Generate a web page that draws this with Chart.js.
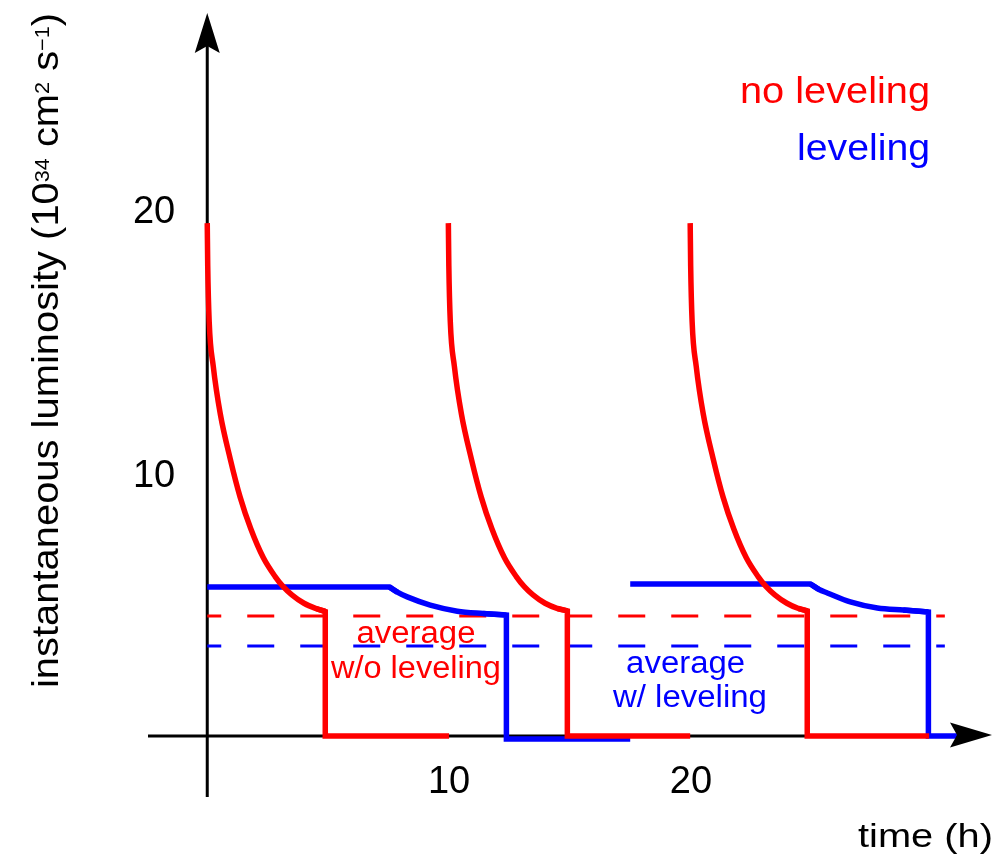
<!DOCTYPE html>
<html>
<head>
<meta charset="utf-8">
<title>Instantaneous luminosity with and without leveling</title>
<script src="https://cdn.jsdelivr.net/npm/chart.js@4/dist/chart.umd.min.js"></script>
<style>
  html, body { margin: 0; padding: 0; background: #fff; }
  #wrap { width: 1002px; height: 861px; }
</style>
</head>
<body>
<div id="wrap"><canvas id="lumi" width="1002" height="861"></canvas></div>
<script>
/* ---------- data (time in h, luminosity in 1e34 cm^-2 s^-1) ---------- */

// no leveling: each fill decays, beam dump drops to 0, turnaround until next fill
const redT1 = [0, 0.02, 0.08, 0.25, 0.54, 0.95, 1.36, 1.8, 2.32, 2.8, 3.14, 3.5, 4.0, 4.5, 4.88, 4.88, 10.0];
const redL1 = [19.43, 17.8, 15.7, 14.0, 12.2, 10.5, 9.05, 7.85, 6.75, 6.05, 5.66, 5.35, 5.03, 4.83, 4.72, 0, 0];
const redT2 = [9.97, 9.99, 10.05, 10.22, 10.51, 10.92, 11.33, 11.77, 12.29, 12.77, 13.11, 13.47, 13.97, 14.49, 14.89, 14.89, 19.97];
const redL2 = [19.43, 17.8, 15.7, 14.0, 12.2, 10.5, 9.05, 7.85, 6.75, 6.05, 5.66, 5.35, 5.03, 4.83, 4.74, 0, 0];
const redT3 = [19.97, 19.99, 20.05, 20.22, 20.51, 20.92, 21.33, 21.77, 22.29, 22.77, 23.11, 23.47, 23.97, 24.45, 24.81, 24.81, 29.85];
const redL3 = [19.43, 17.8, 15.7, 14.0, 12.2, 10.5, 9.05, 7.85, 6.75, 6.05, 5.66, 5.35, 5.03, 4.83, 4.74, 0, 0];

// leveling: flat plateau, then natural decay, dump and turnaround
const bluT1 = [0, 7.53, 7.86, 8.27, 9.22, 10.34, 11.41, 12.37, 12.37, 17.49];
const bluL1 = [5.65, 5.65, 5.45, 5.27, 4.96, 4.73, 4.64, 4.58, -0.11, -0.11];
const bluT2 = [17.49, 24.94, 25.3, 25.64, 26.59, 27.71, 28.78, 29.82, 29.82, 31.0];
const bluL2 = [5.76, 5.76, 5.55, 5.42, 5.08, 4.85, 4.77, 4.70, 0, 0];

// averages over the run
const avgT = [0, 30.5];
const avgNoLeveling = 4.55;
const avgLeveling = 3.41;

const xTicks = [10, 20];
const yTicks = [10, 20];

const RED = '#ff0000';
const BLUE = '#0000ff';
const FONT = '"Liberation Sans", Arial, Helvetica, sans-serif';

/* ---------- helpers ---------- */
function pts(ts, ls) {
  return ts.map((t, i) => ({ x: t, y: ls[i] }));
}
// last index of the leveled plateau (0 when the fill starts decaying at once)
function plateauEnd(ls) {
  let i = 0;
  while (i + 1 < ls.length && ls[i + 1] === ls[0]) i++;
  return i;
}
// index of the dump: first time that repeats (vertical drop)
function dumpIndex(ts) {
  for (let i = 1; i < ts.length; i++) if (ts[i] === ts[i - 1]) return i - 1;
  return ts.length - 1;
}
// straight pieces of a fill: plateau and dump + turnaround. Each one reaches one
// point into the decay so the corners get a proper miter join.
function straight(ts, ls) {
  const p = plateauEnd(ls), k = dumpIndex(ts);
  const out = [];
  if (p > 0) out.push(pts(ts.slice(0, p + 2), ls.slice(0, p + 2)));
  out.push(pts(ts.slice(k - 1), ls.slice(k - 1)));
  return out;
}
// smooth decay between plateau and dump
function decay(ts, ls) {
  const p = plateauEnd(ls), k = dumpIndex(ts);
  return pts(ts.slice(p, k + 1), ls.slice(p, k + 1));
}
// join pieces with a null point so the line breaks between them
function joinPieces(pieces) {
  const out = [];
  pieces.forEach((f, i) => {
    if (i) out.push({ x: f[0].x, y: null });
    out.push(...f);
  });
  return out;
}

// draw text squeezed/stretched horizontally to a given width
function fitText(ctx, str, x, y, size, width, align, color) {
  ctx.font = size + 'px ' + FONT;
  const w = ctx.measureText(str).width;
  ctx.save();
  ctx.translate(x, y);
  ctx.scale(width / w, 1);
  ctx.textAlign = align;
  ctx.textBaseline = 'alphabetic';
  ctx.fillStyle = color;
  ctx.fillText(str, 0, 0);
  ctx.restore();
}

// text made of runs, some superscript; starts at the current origin
function richText(ctx, runs, size, supSize, supRise, width) {
  let total = 0;
  runs.forEach((r) => {
    ctx.font = (r.sup ? supSize : size) + 'px ' + FONT;
    r.w = ctx.measureText(r.t).width;
    total += r.w;
  });
  ctx.scale(width / total, 1);
  let x = 0;
  runs.forEach((r) => {
    ctx.font = (r.sup ? supSize : size) + 'px ' + FONT;
    ctx.fillText(r.t, x, r.sup ? -supRise : 0);
    x += r.w;
  });
}

function arrowHead(ctx, tipX, tipY, dx, dy, len, half, notch) {
  // dx,dy: unit vector pointing where the arrow points
  const bx = tipX - dx * len, by = tipY - dy * len;
  const nx = -dy, ny = dx;
  ctx.beginPath();
  ctx.moveTo(tipX, tipY);
  ctx.lineTo(bx + nx * half, by + ny * half);
  ctx.lineTo(tipX - dx * (len - notch), tipY - dy * (len - notch));
  ctx.lineTo(bx - nx * half, by - ny * half);
  ctx.closePath();
  ctx.fill();
}

/* ---------- axes, ticks and labels ---------- */
const decorations = {
  id: 'decorations',
  beforeDatasetsDraw(chart) {
    const { ctx, chartArea: a, scales: { x, y } } = chart;
    const x0 = x.getPixelForValue(0);
    const y0 = y.getPixelForValue(0);
    ctx.save();
    ctx.strokeStyle = '#000';
    ctx.lineWidth = 3;
    ctx.beginPath();
    ctx.moveTo(a.left, y0);
    ctx.lineTo(a.right - 20, y0);
    ctx.moveTo(x0, a.bottom);
    ctx.lineTo(x0, a.top + 20);
    ctx.stroke();
    ctx.restore();
  },
  afterDatasetsDraw(chart) {
    const { ctx, chartArea: a, scales: { x, y } } = chart;
    const x0 = x.getPixelForValue(0);
    const y0 = y.getPixelForValue(0);
    ctx.save();
    ctx.fillStyle = '#000';
    arrowHead(ctx, a.right, y0 - 1, 1, 0, 42, 12.5, 7);
    arrowHead(ctx, x0, a.top, 0, -1, 40, 12.5, 7);

    // tick labels
    ctx.font = '38px ' + FONT;
    ctx.textAlign = 'right';
    ctx.textBaseline = 'alphabetic';
    yTicks.forEach((v) => ctx.fillText(String(v), x0 - 32, y.getPixelForValue(v) + 15));
    ctx.textAlign = 'center';
    xTicks.forEach((v) => ctx.fillText(String(v), x.getPixelForValue(v), y0 + 57));

    // axis titles
    fitText(ctx, 'time (h)', 993, 847, 33, 135, 'right', '#000');
    ctx.save();
    ctx.translate(58, 688);
    ctx.rotate(-Math.PI / 2);
    ctx.fillStyle = '#000';
    ctx.textAlign = 'left';
    richText(ctx, [
      { t: 'instantaneous luminosity (10' },
      { t: '34', sup: true },
      { t: ' cm' },
      { t: '2', sup: true },
      { t: ' s' },
      { t: '\u22121', sup: true },
      { t: ')' },
    ], 37, 20, 9, 675);
    ctx.restore();

    // legend
    fitText(ctx, 'no leveling', 930, 103, 36, 190, 'right', RED);
    fitText(ctx, 'leveling', 930, 160, 36, 133, 'right', BLUE);

    // average annotations
    fitText(ctx, 'average', x.getPixelForValue(8.63), y.getPixelForValue(3.52), 31, 119, 'center', RED);
    fitText(ctx, 'w/o leveling', x.getPixelForValue(8.63), y.getPixelForValue(2.2), 31, 170, 'center', RED);
    fitText(ctx, 'average', x.getPixelForValue(19.78), y.getPixelForValue(2.39), 31, 119, 'center', BLUE);
    fitText(ctx, 'w/ leveling', x.getPixelForValue(19.96), y.getPixelForValue(1.1), 31, 154, 'center', BLUE);
    ctx.restore();
  },
};

/* ---------- chart ---------- */
const curve = (data, color, order) => ({
  data, borderColor: color, borderWidth: 5.5, cubicInterpolationMode: 'monotone', order,
});
const steps = (data, color, order) => ({
  data, borderColor: color, borderWidth: 5.5, order,
});
const average = (value, color, order) => ({
  data: pts(avgT, avgT.map(() => value)),
  borderColor: color, borderWidth: 3, borderDash: [27, 26], borderDashOffset: 13, order,
});

const redFills = [[redT1, redL1], [redT2, redL2], [redT3, redL3]];
const bluFills = [[bluT1, bluL1], [bluT2, bluL2]];

new Chart(document.getElementById('lumi'), {
  type: 'line',
  data: {
    datasets: [
      { label: 'no leveling', ...curve(joinPieces(redFills.map((f) => decay(...f))), RED, 0) },
      { label: 'no leveling (dump)', ...steps(joinPieces(redFills.flatMap((f) => straight(...f))), RED, 1) },
      { label: 'leveling', ...curve(joinPieces(bluFills.map((f) => decay(...f))), BLUE, 2) },
      { label: 'leveling (plateau, dump)', ...steps(joinPieces(bluFills.flatMap((f) => straight(...f))), BLUE, 3) },
      { label: 'average w/o leveling', ...average(avgNoLeveling, RED, 4) },
      { label: 'average w/ leveling', ...average(avgLeveling, BLUE, 5) },
    ],
  },
  options: {
    responsive: false,
    animation: false,
    devicePixelRatio: 1,
    spanGaps: false,
    layout: { padding: { left: 148, right: 10, top: 13, bottom: 64 } },
    elements: {
      point: { radius: 0, hoverRadius: 0 },
      line: { tension: 0, fill: false, borderCapStyle: 'butt', borderJoinStyle: 'miter' },
    },
    plugins: { legend: { display: false }, tooltip: { enabled: false } },
    scales: {
      x: { type: 'linear', min: -2.45, max: 32.45, display: false },
      y: { type: 'linear', min: -2.31, max: 27.39, display: false },
    },
  },
  plugins: [decorations],
});
</script>
</body>
</html>
